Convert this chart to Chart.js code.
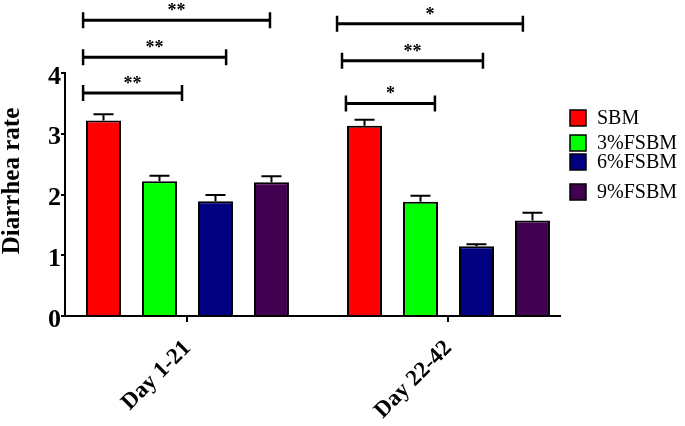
<!DOCTYPE html>
<html>
<head>
<meta charset="utf-8">
<script src="https://cdn.jsdelivr.net/npm/chart.js@4.4.1/dist/chart.umd.min.js"></script>
<style>
  html, body { margin: 0; padding: 0; background: #fff; }
  #wrap { width: 685px; height: 426px; }
</style>
</head>
<body>
<div id="wrap"><canvas id="plot1" width="685" height="426"></canvas></div>
<script>
// periodos e grupos
var periodos = ['Day 1-21', 'Day 22-42'];
var grupos = ['SBM', '3%FSBM', '6%FSBM', '9%FSBM'];
var cores = ['#ff0000', '#00ff00', '#000080', '#420050'];
var titulo_y = 'Diarrhea rate';

// taxa de diarreia (media) e erro padrao, um valor por periodo
var sbm = [3.22, 3.13];
var fsbm3 = [2.22, 1.88];
var fsbm6 = [1.89, 1.15];
var fsbm9 = [2.20, 1.57];
var erro_sbm = [0.10, 0.10];
var erro_fsbm3 = [0.09, 0.10];
var erro_fsbm6 = [0.10, 0.03];
var erro_fsbm9 = [0.10, 0.13];

// comparacoes de significancia (x em unidades do eixo x)
var sig_inicio = [-0.40, -0.40, -0.40, 0.607, 0.592, 0.573];
var sig_fim = [-0.021, 0.148, 0.316, 0.948, 1.132, 1.285];
var sig_nivel = [3.67, 4.26, 4.87, 3.50, 4.20, 4.81];
var sig_texto = ['**', '**', '**', '*', '**', '*'];

var valores = [sbm, fsbm3, fsbm6, fsbm9];
var erros = [erro_sbm, erro_fsbm3, erro_fsbm6, erro_fsbm9];

function pontos(arr) {
    return arr.map(function (v, i) { return { x: i, y: v }; });
}

var plugin_erros = {
    id: 'erros',
    afterDatasetsDraw: function (chart) {
        var ctx = chart.ctx;
        var y = chart.scales.y;
        ctx.save();
        ctx.strokeStyle = '#000';
        ctx.lineWidth = 2;
        chart.data.datasets.forEach(function (ds, i) {
            var meta = chart.getDatasetMeta(i);
            meta.data.forEach(function (bar, j) {
                var topo = y.getPixelForValue(valores[i][j] + erros[i][j]);
                ctx.beginPath();
                ctx.moveTo(bar.x, bar.y);
                ctx.lineTo(bar.x, topo);
                ctx.moveTo(bar.x - 10, topo);
                ctx.lineTo(bar.x + 10, topo);
                ctx.stroke();
            });
        });
        ctx.restore();
    }
};

var plugin_sig = {
    id: 'significancia',
    afterDraw: function (chart) {
        var ctx = chart.ctx;
        var x = chart.scales.x;
        var y = chart.scales.y;
        ctx.save();
        ctx.strokeStyle = '#000';
        ctx.fillStyle = '#000';
        ctx.font = 'bold 18px "Liberation Serif"';
        ctx.textAlign = 'center';
        ctx.textBaseline = 'alphabetic';
        for (var k = 0; k < sig_nivel.length; k++) {
            var x1 = x.getPixelForValue(sig_inicio[k]);
            var x2 = x.getPixelForValue(sig_fim[k]);
            var yy = y.getPixelForValue(sig_nivel[k]);
            ctx.lineWidth = 3;
            ctx.beginPath();
            ctx.moveTo(x1, yy);
            ctx.lineTo(x2, yy);
            ctx.stroke();
            ctx.lineWidth = 2.5;
            ctx.beginPath();
            ctx.moveTo(x1, yy - 8);
            ctx.lineTo(x1, yy + 8);
            ctx.moveTo(x2, yy - 8);
            ctx.lineTo(x2, yy + 8);
            ctx.stroke();
            ctx.fillText(sig_texto[k], (x1 + x2) / 2, yy - 4);
        }
        ctx.restore();
    }
};

// titulo do eixo y e legenda, desenhados a mao
var plugin_textos = {
    id: 'textos',
    afterDraw: function (chart) {
        var ctx = chart.ctx;
        ctx.save();
        ctx.fillStyle = '#000';
        ctx.font = 'bold 25px "Liberation Serif"';
        ctx.textAlign = 'center';
        ctx.textBaseline = 'middle';
        ctx.translate(13, 181);
        ctx.rotate(-Math.PI / 2);
        ctx.fillText(titulo_y, 0, 0);
        ctx.restore();

        var centros = [118, 143, 162, 192];
        ctx.save();
        ctx.font = '20px "Liberation Serif"';
        ctx.textBaseline = 'middle';
        ctx.textAlign = 'left';
        chart.data.datasets.forEach(function (ds, i) {
            var cy = centros[i];
            ctx.fillStyle = ds.backgroundColor;
            ctx.fillRect(570, cy - 8, 16, 16);
            ctx.strokeStyle = '#000';
            ctx.lineWidth = 1.5;
            ctx.strokeRect(570, cy - 8, 16, 16);
            ctx.fillStyle = '#000';
            ctx.fillText(ds.label, 597, cy + 1);
        });
        ctx.restore();
    }
};

var dados = {
    type: 'bar',
    data: {
        datasets: grupos.map(function (g, i) {
            return {
                label: g,
                data: pontos(valores[i]),
                backgroundColor: cores[i],
                borderColor: '#000',
                borderWidth: 2,
                categoryPercentage: 0.858,
                barPercentage: 0.625
            };
        })
    },
    options: {
        responsive: false,
        animation: false,
        layout: { padding: { top: 73, right: 125, left: 0, bottom: 0 } },
        plugins: {
            legend: { display: false },
            tooltip: { enabled: false }
        },
        scales: {
            x: {
                type: 'linear',
                offset: false,
                min: -0.4693,
                max: 1.4272,
                afterBuildTicks: function (scale) {
                    scale.ticks = [{ value: 0 }, { value: 1 }];
                },
                afterFit: function (scale) { scale.height = 110; },
                grid: { display: true, offset: false, drawOnChartArea: false, tickLength: 6, color: '#000', lineWidth: 2 },
                border: { display: true, color: '#000', width: 2 },
                ticks: {
                    autoSkip: false,
                    maxRotation: 45,
                    minRotation: 45,
                    padding: 13,
                    color: '#000',
                    font: { family: 'Liberation Serif', size: 23, weight: 'bold' },
                    callback: function (v) { return periodos[v]; }
                }
            },
            y: {
                min: 0,
                max: 4,
                afterFit: function (scale) { scale.width = 65; },
                grid: { display: true, drawOnChartArea: false, tickLength: 4, color: '#000', lineWidth: 2 },
                border: { display: true, color: '#000', width: 2 },
                ticks: {
                    stepSize: 1,
                    padding: 0,
                    labelOffset: 4,
                    color: '#000',
                    font: { family: 'Liberation Serif', size: 26, weight: 'bold' }
                }
            }
        }
    },
    plugins: [plugin_erros, plugin_sig, plugin_textos]
};

var grafico = new Chart(document.getElementById('plot1'), dados);
</script>
</body>
</html>
